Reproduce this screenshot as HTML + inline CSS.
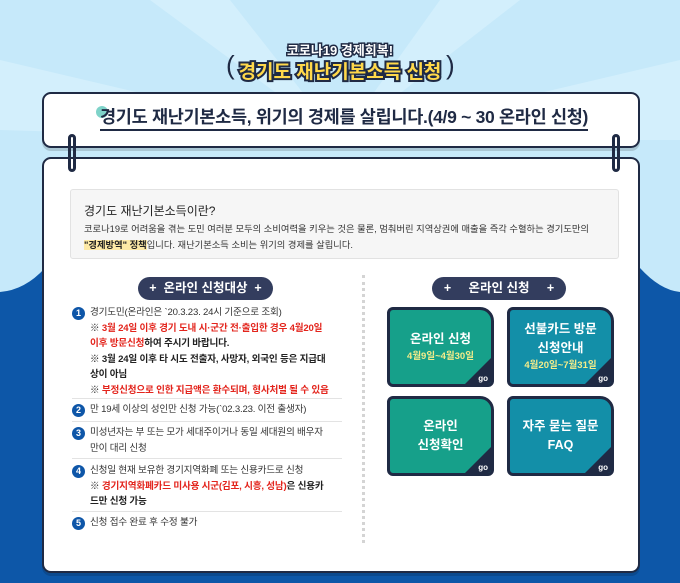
<!DOCTYPE html>
<html><head><meta charset="utf-8"><style>
*{margin:0;padding:0;box-sizing:border-box}
body{width:680px;height:583px;overflow:hidden;position:relative;font-family:"Liberation Sans","Noto Sans CJK KR",sans-serif;background:#c6e9fa}
.abs{position:absolute}
.card{position:absolute;background:#fff;border:2px solid #1f2a44;border-radius:9px;box-shadow:0 3px 0 rgba(0,0,0,.15)}
.ring{position:absolute;width:8px;height:38px;border:3px solid #1f2a44;border-radius:5px;background:transparent}
.pill{position:absolute;height:23px;background:#333d5e;border-radius:12px;color:#fff;font-size:12.5px;font-weight:bold;line-height:23px;text-align:center}
.li{position:absolute;left:72px;width:271px;font-size:9.6px;line-height:15.5px;color:#333;padding-left:18px;letter-spacing:-0.2px}
.num{position:absolute;left:0;top:2px;width:13px;height:13px;border-radius:50%;background:#0e56a8;color:#fff;font-size:9px;font-weight:bold;line-height:13px;text-align:center;letter-spacing:0}
.red{color:#e3241c;font-weight:bold}.b{font-weight:bold;color:#222}
.sep{position:absolute;left:72px;width:270px;border-top:1px solid #e3e3e3}
.btn{position:absolute;width:107px;height:80px;border:3px solid #1f2a44;border-radius:6px 14px 6px 6px;color:#fff;text-align:center;font-weight:bold;overflow:hidden}
.btn .go{position:absolute;right:0;bottom:0;width:0;height:0;border-left:26px solid transparent;border-bottom:26px solid #1f2a44}
.btn .gt{position:absolute;right:3px;bottom:1px;font-size:8px;color:#fff}
.btn .t{font-size:12.5px;line-height:19px}
.btn .d{font-size:9.5px;color:#f4ec8a;line-height:16px}
</style></head><body>
<svg class="abs" style="left:0;top:0" width="680" height="583">
<polygon points="340,140 150,0 230,0" fill="#d3effc"/>
<polygon points="340,140 440,0 520,0" fill="#d3effc"/>
<polygon points="340,140 0,60 0,130" fill="#d3effc"/>
<polygon points="340,140 680,60 680,140" fill="#d3effc"/>
<path d="M0,292 Q25,290 45,268 L45,583 L0,583Z" fill="#0d57a8"/>
<path d="M640,268 Q660,290 680,292 L680,583 L640,583Z" fill="#0d57a8"/>
<rect x="0" y="555" width="680" height="28" fill="#0d57a8"/>
<text x="226" y="74" font-size="26" fill="#1f2a44" font-family="Liberation Sans">(</text>
<text x="446" y="74" font-size="26" fill="#1f2a44" font-family="Liberation Sans">)</text>
</svg>
<div class="abs" style="left:0;width:680px;top:40px;text-align:center;font-size:13px;font-weight:bold;color:#fff;-webkit-text-stroke:3px #1f2a44;paint-order:stroke fill">코로나19 경제회복!</div>
<div class="abs" style="left:0;width:680px;top:57px;text-align:center;font-size:19px;font-weight:bold;color:#ffd84a;-webkit-text-stroke:4px #1f2a44;paint-order:stroke fill">경기도 재난기본소득 신청</div>
<div class="card" style="left:42px;top:92px;width:598px;height:56px"></div>
<div class="abs" style="left:96px;top:106px;width:12px;height:12px;border-radius:50%;background:#7fd3c9"></div>
<div class="abs" style="left:100px;top:106px;font-size:17.5px;font-weight:bold;color:#1f2a44;border-bottom:2px solid #1f2a44;line-height:23px;white-space:nowrap;letter-spacing:-0.3px">경기도 재난기본소득, 위기의 경제를 살립니다.(4/9 ~ 30 온라인 신청)</div>
<div class="card" style="left:42px;top:157px;width:598px;height:416px"></div>
<div class="ring" style="left:68px;top:134px"></div>
<div class="ring" style="left:612px;top:134px"></div>
<div class="abs" style="left:70px;top:189px;width:549px;height:70px;background:#f6f6f6;border:1px solid #e2e2e2;border-radius:3px"></div>
<div class="abs" style="left:84px;top:202px;font-size:12px;color:#222">경기도 재난기본소득이란?</div>
<div class="abs" style="left:84px;top:221px;font-size:9.3px;color:#333;line-height:16px;white-space:nowrap">코로나19로 어려움을 겪는 도민 여러분 모두의 소비여력을 키우는 것은 물론, 멈춰버린 지역상권에 매출을 즉각 수혈하는 경기도만의<br><b style="background:#fde9a6;color:#222">"경제방역" 정책</b>입니다. 재난기본소득 소비는 위기의 경제를 살립니다.</div>
<div class="pill" style="left:138px;top:277px;width:135px">+&nbsp;&nbsp;온라인 신청대상&nbsp;&nbsp;+</div>
<div class="pill" style="left:432px;top:277px;width:134px">+&nbsp;&nbsp;&nbsp;&nbsp;&nbsp;온라인 신청&nbsp;&nbsp;&nbsp;&nbsp;&nbsp;+</div>
<div class="li" style="top:305px"><span class="num">1</span>경기도민(온라인은 `20.3.23. 24시 기준으로 조회)<br>※ <span class="red">3월 24일 이후 경기 도내 시·군간 전·출입한 경우 4월20일<br>이후 방문신청</span><span class="b">하여 주시기 바랍니다.</span><br><span class="b">※ 3월 24일 이후 타 시도 전출자, 사망자, 외국인 등은 지급대<br>상이 아님</span><br>※ <span class="red">부정신청으로 인한 지급액은 환수되며, 형사처벌 될 수 있음</span></div>
<div class="sep" style="top:398px"></div>
<div class="li" style="top:402px"><span class="num">2</span>만 19세 이상의 성인만 신청 가능(`02.3.23. 이전 출생자)</div>
<div class="sep" style="top:421px"></div>
<div class="li" style="top:425px"><span class="num">3</span>미성년자는 부 또는 모가 세대주이거나 동일 세대원의 배우자<br>만이 대리 신청</div>
<div class="sep" style="top:458px"></div>
<div class="li" style="top:463px"><span class="num">4</span>신청일 현재 보유한 경기지역화폐 또는 신용카드로 신청<br>※ <span class="red">경기지역화폐카드 미사용 시군(김포, 시흥, 성남)</span><span class="b">은 신용카<br>드만 신청 가능</span></div>
<div class="sep" style="top:511px"></div>
<div class="li" style="top:515px"><span class="num">5</span>신청 접수 완료 후 수정 불가</div>
<div class="abs" style="left:362px;top:275px;height:268px;border-left:3px dotted #d4d4d4"></div>
<div class="btn" style="left:387px;top:307px;background:#16a08a"><div style="padding-top:20px" class="t">온라인 신청</div><div class="d">4월9일~4월30일</div><div class="go"></div><span class="gt">go</span></div>
<div class="btn" style="left:507px;top:307px;background:#138fa8"><div style="padding-top:10px" class="t">선불카드 방문<br>신청안내</div><div class="d">4월20일~7월31일</div><div class="go"></div><span class="gt">go</span></div>
<div class="btn" style="left:387px;top:396px;background:#16a08a"><div style="padding-top:18px" class="t">온라인<br>신청확인</div><div class="go"></div><span class="gt">go</span></div>
<div class="btn" style="left:507px;top:396px;background:#138fa8"><div style="padding-top:18px" class="t">자주 묻는 질문<br>FAQ</div><div class="go"></div><span class="gt">go</span></div>
</body></html>
